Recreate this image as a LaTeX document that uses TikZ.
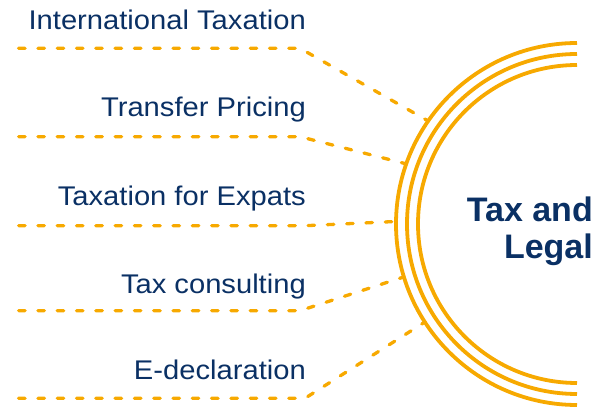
\documentclass[tikz,border=0pt]{standalone}
\usepackage{fontspec}
\setmainfont{Liberation Sans}
\newfontfamily\labelfont[FakeStretch=1.08]{Liberation Sans}
\usetikzlibrary{calc}
\definecolor{gold}{RGB}{247,169,0}
\definecolor{navy}{RGB}{10,48,100}
\begin{document}
\begin{tikzpicture}[x=1pt,y=1pt,
  ring/.style={draw=gold,line width=3.8pt},
  leader/.style={draw=gold,line width=3.3pt,line cap=round,dash pattern=on 6.5pt off 12.8pt,rounded corners=3pt},
  item/.style={anchor=base east,inner sep=0pt,text=navy,font=\labelfont\fontsize{27}{32}\selectfont},
  title/.style={anchor=base east,inner sep=0pt,text=navy,align=right,font=\bfseries\fontsize{34}{37.3}\selectfont}]
\useasboundingbox (0,0) rectangle (614,407);
\coordinate (c) at (577,183);
% rings
\draw[ring] (577,364) arc[start angle=90,end angle=270,radius=181pt];
\draw[ring] (577,353) arc[start angle=90,end angle=270,radius=170pt];
\draw[ring] (577,342) arc[start angle=90,end angle=270,radius=159pt];
\node[title] (hub) at (593,148) {Tax and\\Legal};
% labels
\node[item] (l1) at (306,377.7) {International Taxation};
\node[item] (l2) at (306,290) {Transfer Pricing};
\node[item] (l3) at (306,201.5) {Taxation for Expats};
\node[item] (l4) at (306,113) {Tax consulting};
\node[item] (l5) at (306,27.7) {E-declaration};
% leader coordinates
\coordinate (s1) at (18.6,358.7); \coordinate (b1) at (300,358.7);
\coordinate (s2) at (18.6,270.3); \coordinate (b2) at (300,270.3);
\coordinate (s3) at (18.6,181.3); \coordinate (b3) at (305,181.3);
\coordinate (s4) at (18.6,96.3);  \coordinate (b4) at (300,96.3);
\coordinate (s5) at (18.6,8.7);   \coordinate (b5) at (305,8.7);
\coordinate (e1) at ($(c)+(145.3:181)$);
\coordinate (e2) at ($(c)+(160.6:181)$);
\coordinate (e3) at ($(c)+(179.2:181)$);
\coordinate (e4) at ($(c)+(197:181)$);
\coordinate (e5) at ($(c)+(212.8:181)$);
\draw[leader] (s1) -- (b1) -- (e1);
\draw[leader] (s2) -- (b2) -- (e2);
\draw[leader] (s3) -- (b3) -- (e3);
\draw[leader] (s4) -- (b4) -- (e4);
\draw[leader] (s5) -- (b5) -- (e5);
\end{tikzpicture}
\end{document}
